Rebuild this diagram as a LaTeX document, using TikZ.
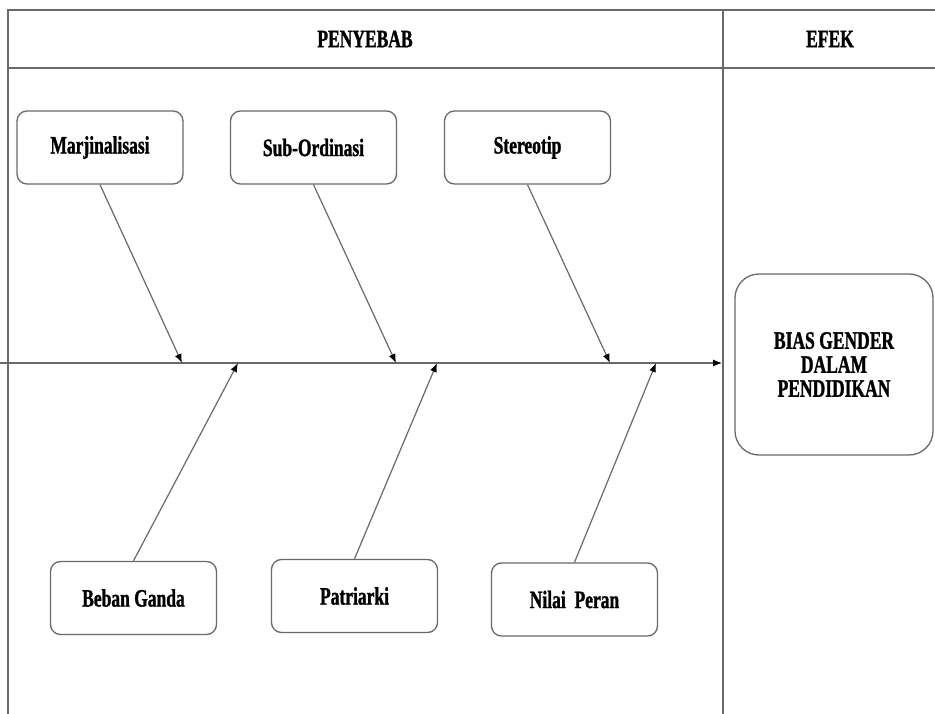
\documentclass[tikz,border=0pt]{standalone}
\usepackage{fontspec}
\setmainfont{Liberation Serif}[FakeStretch=0.7, BoldFeatures={FakeBold=1.2}]
\usepackage{tikz}
\usetikzlibrary{arrows.meta, positioning}
\definecolor{linegray}{RGB}{105,105,105}

\tikzset{
    causebox/.style={draw=linegray, line width=1.3pt, rounded corners=10pt, fill=white,
        minimum width=166pt, minimum height=73pt, font=\fontsize{25}{28}\selectfont\bfseries},
    effectbox/.style={draw=linegray, line width=1.3pt, rounded corners=24pt, fill=white,
        minimum width=198pt, minimum height=181pt, align=center,
        font=\fontsize{25}{24}\selectfont\bfseries},
    headtext/.style={font=\fontsize{25}{28}\selectfont\bfseries},
    bone/.style={draw=linegray, line width=1.2pt, -{Latex[black, length=9pt, width=7pt]}},
    frame/.style={draw=linegray, line width=1.3pt}
}

\begin{document}
\begin{tikzpicture}[x=1pt, y=-1pt]
\useasboundingbox (0,0) rectangle (935,714);

% Table frame
\draw[frame] (935,10) -- (8,10) -- (8,714);
\draw[frame] (8,68) -- (935,68);
\draw[frame] (723,10) -- (723,714);
\node[headtext] (penyebab) at (365,39) {PENYEBAB};
\node[headtext] (efekhead) at (830,39) {EFEK};

% Main spine
\coordinate (spinestart) at (0,363);
\coordinate (spineend) at (722,363);
\draw[bone] (spinestart) -- (spineend);

% Causes above the spine
\node[causebox] (marjinalisasi) at (100,147.5) {Marjinalisasi};
\node[causebox] (subordinasi) at (313.5,147.5) {Sub-Ordinasi};
\node[causebox] (stereotip) at (527.5,147.5) {Stereotip};

% Causes below the spine
\node[causebox] (bebanganda) at (133.5,598) {Beban Ganda};
\node[causebox] (patriarki) at (354.5,596) {Patriarki};
\node[causebox] (nilaiperan) at (574.5,599.5) {Nilai~~Peran};

% Effect
\node[effectbox] (efek) at (834,364.5) {BIAS GENDER\\DALAM\\PENDIDIKAN};

% Points on the spine
\coordinate (m1) at (182,363);
\coordinate (m2) at (396,363);
\coordinate (m3) at (610,363);
\coordinate (b1) at (238,363);
\coordinate (b2) at (437,363);
\coordinate (b3) at (656,363);

% Bones
\draw[bone] (marjinalisasi.south) -- (m1);
\draw[bone] (subordinasi.south) -- (m2);
\draw[bone] (stereotip.south) -- (m3);
\draw[bone] (bebanganda.north) -- (b1);
\draw[bone] (patriarki.north) -- (b2);
\draw[bone] (nilaiperan.north) -- (b3);
\end{tikzpicture}
\end{document}
